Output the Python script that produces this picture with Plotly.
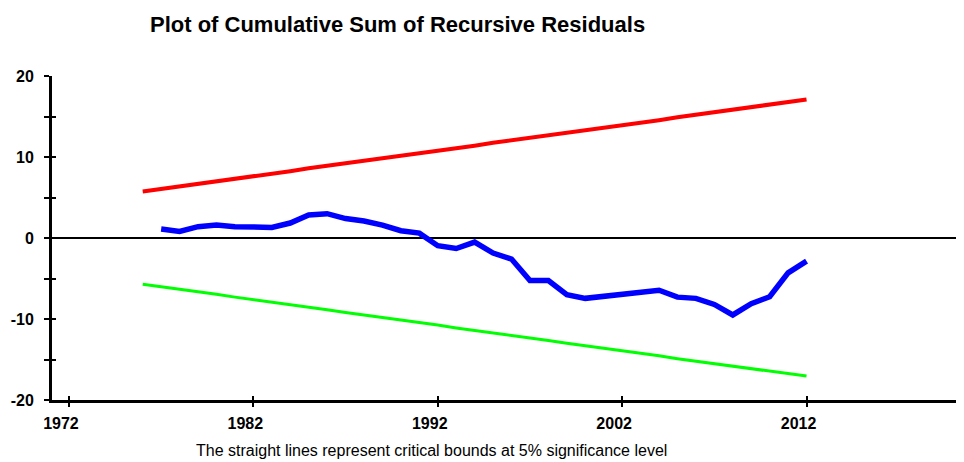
import plotly.graph_objects as go

years_cusum = list(range(1977, 2013))
cusum = [1.1, 0.8, 1.4, 1.6, 1.4, 1.3, 1.3, 1.85, 2.85, 3.0, 2.4, 2.1, 1.6, 0.9, 0.6,
         -0.95, -1.3, -0.5, -1.85, -2.6, -5.25, -5.25, -7.0, -7.45, -7.2, -6.9, -6.6,
         -6.45, -7.3, -7.45, -8.2, -9.5, -8.1, -7.25, -4.3, -2.85]

years_bounds = list(range(1976, 2013))
upper = [5.75, 6.05, 6.35, 6.7, 7.0, 7.3, 7.65, 7.95, 8.25, 8.6, 8.9, 9.2, 9.5, 9.85,
         10.15, 10.45, 10.8, 11.1, 11.4, 11.75, 12.05, 12.35, 12.7, 13.0, 13.3, 13.6,
         13.95, 14.25, 14.55, 14.9, 15.2, 15.5, 15.85, 16.15, 16.45, 16.8, 17.1]
lower = [-5.7, -6.0, -6.3, -6.65, -6.95, -7.3, -7.6, -7.9, -8.25, -8.55, -8.85, -9.2,
         -9.5, -9.8, -10.15, -10.45, -10.75, -11.1, -11.4, -11.7, -12.05, -12.35,
         -12.65, -13.0, -13.3, -13.6, -13.95, -14.25, -14.55, -14.9, -15.2, -15.5,
         -15.8, -16.1, -16.45, -16.75, -17.05]

x_ticks = [1972, 1982, 1992, 2002, 2012]
x_labels = ["1972", "1982", "1992", "2002", "2012"]
y_ticks = [-20, -15, -10, -5, 0, 5, 10, 15, 20]
y_labels = ["-20", "", "-10", "", "0", "", "10", "", "20"]

title_text = "Plot of Cumulative Sum of Recursive Residuals"
note_text = "The straight lines represent critical bounds at 5% significance level"

FONT = "Liberation Sans, Arial, sans-serif"
XR = [1971.08, 2020.54]
YR = [-20, 20]

# the page body has an 8px default margin; the figure is sized to fill the rest
W, H = 956, 454
ML, MT, MB = 44, 67.7, 61.7
PH = H - MT - MB
PW = W - ML

fig = go.Figure()
fig.add_trace(go.Scatter(x=years_bounds, y=upper, mode="lines",
                         line=dict(color="#FF0000", width=4), hoverinfo="skip"))
fig.add_trace(go.Scatter(x=years_bounds, y=lower, mode="lines",
                         line=dict(color="#00FF00", width=3), hoverinfo="skip"))
fig.add_trace(go.Scatter(x=years_cusum, y=cusum, mode="lines",
                         line=dict(color="#0000FF", width=5.5), hoverinfo="skip"))
# invisible trace to host the overlay axes (inside tick halves)
fig.add_trace(go.Scatter(x=[XR[0]], y=[0], xaxis="x2", yaxis="y2", mode="markers",
                         marker=dict(opacity=0), hoverinfo="skip"))

fig.update_layout(
    width=W, height=H,
    margin=dict(l=ML, r=0, t=MT, b=MB, pad=0),
    paper_bgcolor="white", plot_bgcolor="white",
    showlegend=False,
    font=dict(family=FONT, color="black"),
    xaxis=dict(range=XR, tickmode="array", tickvals=x_ticks, ticktext=x_labels,
               ticks="outside", ticklen=4, tickwidth=2, tickcolor="black",
               showline=True, linecolor="black", linewidth=3,
               showgrid=False, zeroline=False,
               tickfont=dict(size=16, family=FONT, weight="bold"),
               ticklabelshift=-8, ticklabelstandoff=3),
    yaxis=dict(range=YR, tickmode="array", tickvals=y_ticks, ticktext=y_labels,
               ticks="outside", ticklen=5, tickwidth=2, tickcolor="black",
               showline=True, linecolor="black", linewidth=3,
               showgrid=False, zeroline=True, zerolinecolor="black", zerolinewidth=2,
               tickfont=dict(size=16, family=FONT, weight="bold"),
               ticklabelstandoff=7),
    xaxis2=dict(range=XR, overlaying="x", anchor="y2", tickmode="array",
                tickvals=x_ticks, ticks="inside", ticklen=4, tickwidth=2,
                tickcolor="black", showticklabels=False, showline=False,
                showgrid=False, zeroline=False, side="bottom"),
    yaxis2=dict(range=YR, overlaying="y", anchor="x2", tickmode="array",
                tickvals=y_ticks, ticks="inside", ticklen=4, tickwidth=2,
                tickcolor="black", showticklabels=False, showline=False,
                showgrid=False, zeroline=False, side="left"),
    annotations=[
        dict(text="<b>" + title_text + "</b>", xref="paper", yref="paper",
             x=(389.5 - ML) / PW, y=(MT + PH - 16.2) / PH, xanchor="center",
             yanchor="middle", showarrow=False, font=dict(size=22, family=FONT)),
        dict(text=note_text, xref="paper", yref="paper",
             x=(423 - ML) / PW, y=(MT + PH - 443) / PH, xanchor="center",
             yanchor="middle", showarrow=False, font=dict(size=16, family=FONT)),
    ],
)

fig.write_html("out.html")
